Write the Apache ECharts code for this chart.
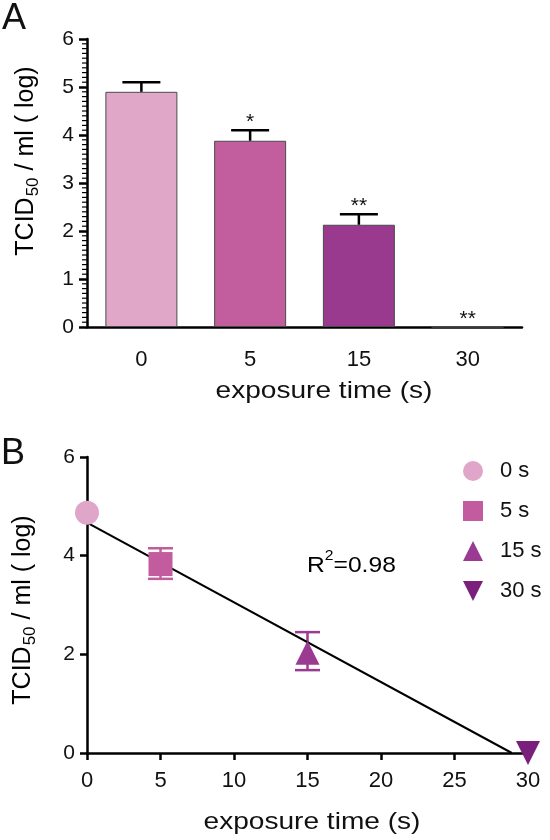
<!DOCTYPE html>
<html><head><meta charset="utf-8">
<script src="https://cdn.jsdelivr.net/npm/echarts@6/dist/echarts.min.js"></script>
<style>html,body{margin:0;padding:0;background:#fff}#c{width:550px;height:840px}</style>
</head><body><div id="c"></div>
<script>
// ---- Panel A data ----
const categoriesA = ['0', '5', '15', '30'];
const meansA = [4.9, 3.88, 2.13, 0];
const errUpperA = [5.1, 4.1, 2.35, 0];
const sigA = ['', '*', '**', '**'];
const barColorsA = ['#e0a7c9', '#c25e9e', '#9a3a8f', '#7b1f7c'];
const yMaxA = 6;
const yMinorStepA = 0.1;

// ---- Panel B data ----
const timesB = [0, 5, 15, 30];
const meansB = [4.87, 3.83, 2.03, 0];
const errLowB = [null, 3.53, 1.68, null];
const errHighB = [null, 4.15, 2.45, null];
const namesB = ['0 s', '5 s', '15 s', '30 s'];
const colorsB = ['#e0a6ca', '#c25c9e', '#9b3a92', '#7b1f7c'];
const symbolsB = ['circle', 'rect', 'triangle', 'path://M0,0L10,0L5,10Z'];
const fitX = [0, 28.9];
const fitY = [4.67, 0];
const r2Text = '0.98';

const FONT = '"Liberation Sans", Arial, Helvetica, sans-serif';
const chart = echarts.init(document.getElementById('c'), null, {renderer: 'canvas'});

const axisLineStyle = {color: '#000', width: 2.5};

function errA(params, api) {
  const i = api.value(0), top = api.value(1), mean = api.value(2);
  const st = {stroke: '#000', lineWidth: 2.5};
  const children = [];
  if (params.dataIndex === 0) {
    // minor ticks on the y axis (every 0.1), positioned through the axis scale
    const x0 = api.coord([0, 0])[0] - api.size([1, 0])[0] / 2;
    for (let k = 1; k * yMinorStepA < yMaxA - 1e-9; k++) {
      const v = k * yMinorStepA;
      if (Math.abs(v - Math.round(v)) < 1e-6) continue;
      const y = api.coord([0, v])[1];
      children.push({type: 'rect', shape: {x: x0 - 5, y: y - 0.6, width: 5, height: 1.2}, style: {fill: '#000'}});
    }
  }
  if (top > mean) {
    const p1 = api.coord([i, mean]);
    const p2 = api.coord([i, top]);
    children.push({type: 'line', shape: {x1: p1[0], y1: p1[1], x2: p2[0], y2: p2[1]}, style: st});
    children.push({type: 'line', shape: {x1: p2[0] - 19, y1: p2[1], x2: p2[0] + 19, y2: p2[1]}, style: st});
  }
  return {type: 'group', children: children};
}
function sigRender(params, api) {
  const i = api.value(0), top = api.value(1);
  const p = api.coord([i, top]);
  return {type: 'text', style: {text: sigA[i], x: p[0], y: p[1] - 8, textAlign: 'center',
    textVerticalAlign: 'middle', font: '21px ' + FONT, fill: '#111'}};
}
function errB(params, api) {
  const x = api.value(0), lo = api.value(1), hi = api.value(2), ci = api.value(3);
  const a = api.coord([x, lo]), b = api.coord([x, hi]);
  const st = {stroke: colorsB[ci], lineWidth: 2.5};
  return {type: 'group', children: [
    {type: 'line', shape: {x1: a[0], y1: a[1], x2: b[0], y2: b[1]}, style: st},
    {type: 'line', shape: {x1: a[0] - 12.5, y1: a[1], x2: a[0] + 12.5, y2: a[1]}, style: st},
    {type: 'line', shape: {x1: b[0] - 12.5, y1: b[1], x2: b[0] + 12.5, y2: b[1]}, style: st}
  ]};
}

const errBData = [];
timesB.forEach((t, i) => { if (errLowB[i] != null) errBData.push([t, errLowB[i], errHighB[i], i]); });

const scatterSeries = namesB.map((n, i) => ({
  name: n, type: 'scatter', xAxisIndex: 1, yAxisIndex: 1,
  symbol: symbolsB[i], symbolSize: 24, z: 5,
  itemStyle: {color: colorsB[i], opacity: 1},
  data: [[timesB[i], meansB[i]]]
}));

const mainText = {fontSize: 25, fontFamily: FONT, color: '#111', verticalAlign: 'top'};
const subText = {fontSize: 17, fontFamily: FONT, color: '#111', verticalAlign: 'top', padding: [11, 0, 0, 1]};
function yTitle(x, y) {
  return {type: 'text', x: x, y: y, rotation: Math.PI / 2,
    style: {text: '{m|TCID}{s|50}{m| / ml ( log)}', textAlign: 'center', textVerticalAlign: 'middle',
      rich: {m: mainText, s: subText}}};
}

const option = {
  animation: false,
  backgroundColor: '#fff',
  textStyle: {fontFamily: FONT},
  grid: [
    {left: 87, top: 39, width: 435, height: 288},
    {left: 87, top: 457, width: 441, height: 296}
  ],
  xAxis: [
    {type: 'category', gridIndex: 0, data: categoriesA,
     axisLine: {lineStyle: axisLineStyle},
     axisTick: {alignWithLabel: true, length: 7, lineStyle: {width: 2.5, color: '#000'}},
     axisLabel: {fontSize: 22, color: '#111', margin: 22, fontFamily: FONT}},
    {type: 'value', gridIndex: 1, min: 0, max: 30, interval: 5,
     axisLine: {lineStyle: axisLineStyle},
     axisTick: {show: true, length: 7, lineStyle: {width: 2.5, color: '#000'}},
     axisLabel: {fontSize: 22, color: '#111', margin: 17, fontFamily: FONT},
     splitLine: {show: false}}
  ],
  yAxis: [
    {type: 'value', gridIndex: 0, min: 0, max: yMaxA, interval: 1,
     axisLine: {show: true, lineStyle: axisLineStyle},
     axisTick: {show: true, length: 8, lineStyle: {width: 2.5, color: '#000'}},
     axisLabel: {fontSize: 21, color: '#111', margin: 13, fontFamily: FONT},
     splitLine: {show: false}},
    {type: 'value', gridIndex: 1, min: 0, max: 6, interval: 2,
     axisLine: {show: true, lineStyle: axisLineStyle},
     axisTick: {show: true, length: 7, lineStyle: {width: 2.5, color: '#000'}},
     axisLabel: {fontSize: 21, color: '#111', margin: 12, fontFamily: FONT},
     splitLine: {show: false}}
  ],
  legend: {
    orient: 'vertical', left: 458, top: 455, itemWidth: 20, itemHeight: 20, itemGap: 18,
    data: namesB,
    textStyle: {fontSize: 22, color: '#111', fontFamily: FONT, padding: [0, 0, 0, 12]}
  },
  series: [
    {type: 'bar', xAxisIndex: 0, yAxisIndex: 0, barWidth: 72,
     data: meansA.map((v, i) => ({value: v, itemStyle: {color: barColorsA[i], borderColor: '#4a4a4a', borderWidth: 1}}))},
    {type: 'custom', xAxisIndex: 0, yAxisIndex: 0, renderItem: errA, z: 3, clip: false,
     data: categoriesA.map((c, i) => [i, errUpperA[i], meansA[i]])},
    {type: 'custom', xAxisIndex: 0, yAxisIndex: 0, renderItem: sigRender, z: 3,
     data: categoriesA.map((c, i) => [i, errUpperA[i]])},
    {type: 'custom', xAxisIndex: 1, yAxisIndex: 1, renderItem: errB, z: 2, data: errBData},
    {type: 'line', xAxisIndex: 1, yAxisIndex: 1, symbol: 'none', z: 3,
     lineStyle: {color: '#000', width: 2}, data: fitX.map((x, i) => [x, fitY[i]])},
    ...scatterSeries
  ],
  graphic: [
    {type: 'text', x: 2, y: 1, style: {text: 'A', font: '36px ' + FONT, fill: '#111'}},
    {type: 'text', x: 1, y: 436, style: {text: 'B', font: '36px ' + FONT, fill: '#111'}},
    yTitle(28, 161),
    yTitle(25, 610),
    {type: 'text', x: 324, y: 391, scaleX: 1.17, style: {text: 'exposure time (s)', textAlign: 'center', textVerticalAlign: 'middle', font: '24px ' + FONT, fill: '#111'}},
    {type: 'text', x: 312, y: 822, scaleX: 1.17, style: {text: 'exposure time (s)', textAlign: 'center', textVerticalAlign: 'middle', font: '24px ' + FONT, fill: '#111'}},
    {type: 'text', x: 307, y: 563, scaleX: 1.12, style: {text: '{m|R}{p|2}{m|=' + r2Text + '}', textVerticalAlign: 'middle',
      rich: {m: {fontSize: 22, fontFamily: FONT, color: '#111', verticalAlign: 'bottom'},
             p: {fontSize: 14, fontFamily: FONT, color: '#111', verticalAlign: 'bottom', padding: [0, 0, 14, 0]}}}}
  ]
};
chart.setOption(option);
</script></body></html>
